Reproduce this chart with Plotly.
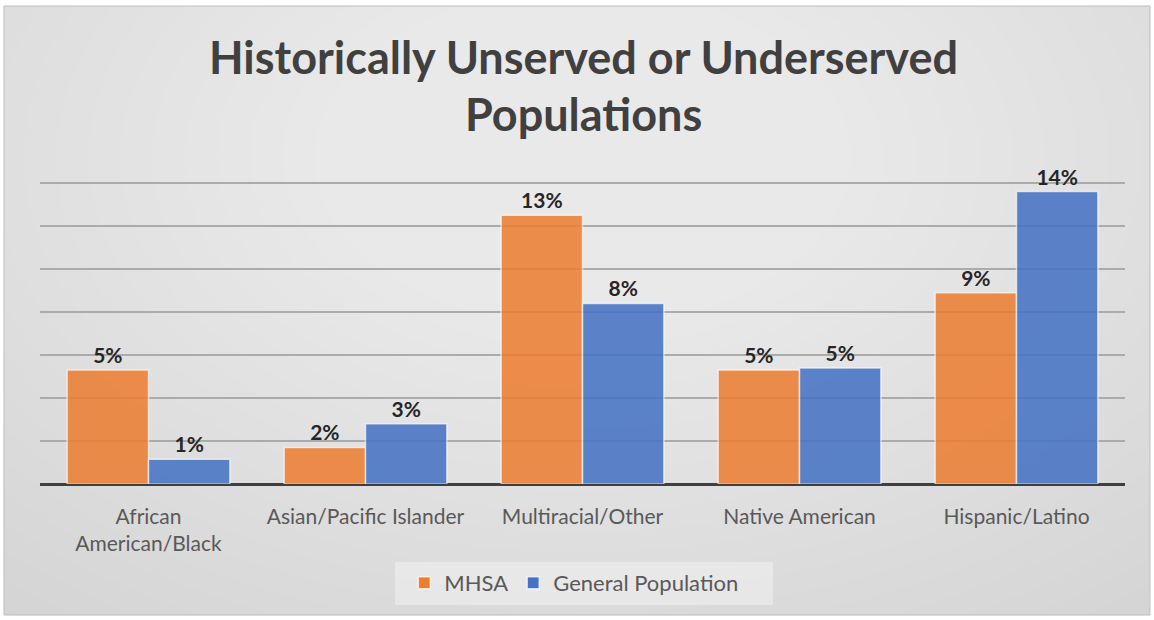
import plotly.graph_objects as go

categories = ["African<br>American/Black", "Asian/Pacific Islander", "Multiracial/Other",
              "Native American", "Hispanic/Latino"]
mhsa = [5.3, 1.7, 12.5, 5.3, 8.9]
general_pop = [1.15, 2.8, 8.4, 5.4, 13.6]
series_names = ["MHSA", "General Population"]
y_ticks = [0, 2, 4, 6, 8, 10, 12, 14, 16]
title_lines = ["Historically Unserved or Underserved", "Populations"]

FONT = "Lato"
ORANGE = "#ED7D31"
BLUE = "#4472C4"

fig = go.Figure()
for name, vals, col in [(series_names[0], mhsa, ORANGE), (series_names[1], general_pop, BLUE)]:
    fig.add_trace(go.Bar(
        name=name, x=categories, y=vals,
        marker=dict(color=col, opacity=0.86, line=dict(color="rgba(255,255,255,0.7)", width=1.5)),
        texttemplate="%{y:.0f}%", textposition="outside", cliponaxis=False,
        textfont=dict(family=FONT, size=21, color="#262626", weight="bold"),
    ))

X0, X1, Y0, Y1 = -0.0332, 1.023, -0.381, 1.3895
shapes = [dict(type="rect", xref="paper", yref="paper", x0=X0, x1=X1, y0=Y0, y1=Y1,
               fillcolor="#cbcbcb", line=dict(width=0), layer="below")]
cx, cy = 0.5, 0.95
n = 32
for i in range(n):
    f = 1 - i / n
    rx = 0.95 * f + 0.04
    ry = 1.9 * f + 0.08
    shapes.append(dict(type="circle", xref="paper", yref="paper",
                       x0=cx - rx, x1=cx + rx, y0=cy - ry, y1=cy + ry,
                       fillcolor="rgba(255,255,255,0.043)", line=dict(width=0), layer="below"))

shapes += [
    dict(type="rect", xref="paper", yref="paper", x0=-0.3, x1=X0, y0=-0.9, y1=2.0,
         fillcolor="white", line=dict(width=0), layer="below"),
    dict(type="rect", xref="paper", yref="paper", x0=X1, x1=1.3, y0=-0.9, y1=2.0,
         fillcolor="white", line=dict(width=0), layer="below"),
    dict(type="rect", xref="paper", yref="paper", x0=-0.3, x1=1.3, y0=Y1, y1=2.0,
         fillcolor="white", line=dict(width=0), layer="below"),
    dict(type="rect", xref="paper", yref="paper", x0=-0.3, x1=1.3, y0=-0.9, y1=Y0,
         fillcolor="white", line=dict(width=0), layer="below"),
    dict(type="rect", xref="paper", yref="paper", x0=X0, x1=X1, y0=Y0, y1=Y1,
         fillcolor="rgba(0,0,0,0)", line=dict(color="#bdbdbd", width=1), layer="below"),
    dict(type="rect", xref="paper", yref="paper", x0=(395 - 40) / 1085, x1=(773 - 40) / 1085,
         y0=(484 - 605) / 344, y1=(484 - 562) / 344,
         fillcolor="rgba(250,250,250,0.4)", line=dict(width=0), layer="below"),
]

annotations = [
    dict(text=title_lines[0], xref="paper", yref="paper", x=(583 - 40) / 1085, y=(484 - 57) / 344,
         xanchor="center", yanchor="middle", showarrow=False,
         font=dict(family=FONT, size=45, color="#404040", weight="bold")),
    dict(text=title_lines[1], xref="paper", yref="paper", x=(583 - 40) / 1085, y=(484 - 114) / 344,
         xanchor="center", yanchor="middle", showarrow=False,
         font=dict(family=FONT, size=45, color="#404040", weight="bold")),
]

fig.update_layout(
    width=1154, height=620,
    margin=dict(l=40, r=29, t=140, b=136),
    paper_bgcolor="white", plot_bgcolor="rgba(0,0,0,0)",
    barmode="group", bargap=0.25, bargroupgap=0,
    font=dict(family=FONT, color="#595959"),
    showlegend=True,
    legend=dict(orientation="h", x=0.492, xanchor="center", y=-0.288, yanchor="middle",
                bgcolor="rgba(0,0,0,0)", font=dict(family=FONT, size=22, color="#595959"),
                traceorder="normal", itemwidth=30),
    shapes=shapes,
    annotations=annotations,
)
fig.update_xaxes(showgrid=False, showline=False, ticks="", ticklabelstandoff=18,
                 tickfont=dict(family=FONT, size=21, color="#595959"))
fig.update_yaxes(range=[0, 16], tickvals=y_ticks, showticklabels=False, showgrid=True,
                 gridcolor="#ababab", gridwidth=1.5, zeroline=True, zerolinecolor="#3f3f3f",
                 zerolinewidth=3, showline=False)

fig.write_html("out.html")
